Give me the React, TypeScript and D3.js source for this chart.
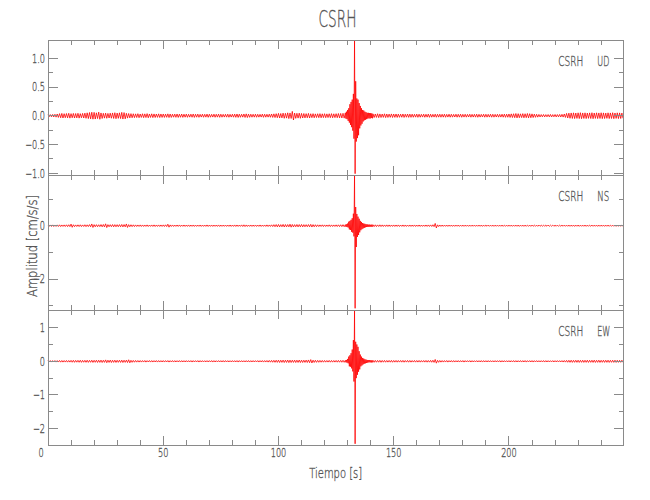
import React from 'react';
import * as d3 from 'd3';

// ---------------- data ----------------
const titleText = 'CSRH';
const stationName = 'CSRH';
const componentNames = ['UD', 'NS', 'EW'];
const xAxisLabel = 'Tiempo [s]';
const yAxisLabel = 'Amplitud [cm/s/s]';

const timeMax = 249.7;
const xMajorTicks = [0, 50, 100, 150, 200];
const xMinorTicks = [10, 20, 30, 40, 60, 70, 80, 90, 110, 120, 130, 140, 160, 170, 180, 190, 210, 220, 230, 240];

const udYDomain = [-1.033, 1.319];
const nsYDomain = [-3.163, 1.902];
const ewYDomain = [-2.486, 1.524];
const udMajorTicks = [1, 0.5, 0, -0.5, -1];
const udMinorTicks = [0.75, 0.25, -0.25, -0.75];
const nsMajorTicks = [0, -2];
const nsMinorTicks = [1, -1, -3];
const ewMajorTicks = [1, 0, -1, -2];
const ewMinorTicks = [0.5, -0.5, -1.5];

// background envelope amplitude (cm/s/s), 1 s bins, 0..128 s and 141..249 s
const preStartTime = 0;
const postStartTime = 141;
// event window, 0.5 s bins, 129..140.5 s (max / min of each bin)
const eventStartTime = 129;
const eventStep = 0.5;

const udPre = [
  0.018, 0.02, 0.022, 0.025, 0.03, 0.036, 0.04, 0.035, 0.038, 0.042,
  0.036, 0.04, 0.038, 0.042, 0.036, 0.04, 0.045, 0.05, 0.055, 0.06,
  0.058, 0.05, 0.062, 0.048, 0.042, 0.045, 0.04, 0.044, 0.048, 0.052,
  0.046, 0.05, 0.058, 0.054, 0.042, 0.038, 0.036, 0.034, 0.032, 0.035,
  0.03, 0.034, 0.032, 0.036, 0.03, 0.033, 0.031, 0.029, 0.032, 0.03,
  0.03, 0.028, 0.032, 0.03, 0.026, 0.028, 0.03, 0.027, 0.029, 0.026,
  0.028, 0.025, 0.027, 0.03, 0.026, 0.028, 0.024, 0.027, 0.025, 0.028,
  0.026, 0.024, 0.027, 0.025, 0.028, 0.026, 0.024, 0.025, 0.027, 0.024,
  0.026, 0.028, 0.03, 0.027, 0.025, 0.03, 0.032, 0.028, 0.026, 0.025,
  0.027, 0.025, 0.024, 0.028, 0.026, 0.025, 0.027, 0.03, 0.032, 0.035,
  0.04, 0.038, 0.045, 0.042, 0.05, 0.048, 0.075, 0.046, 0.042, 0.045,
  0.04, 0.038, 0.036, 0.04, 0.034, 0.036, 0.032, 0.034, 0.036, 0.033,
  0.035, 0.032, 0.034, 0.036, 0.033, 0.035, 0.038, 0.04, 0.042,
];
const udEventMax = [
  0.05, 0.07, 0.1, 0.13, 0.2, 0.24, 0.28, 0.38, 1.31, 0.6, 0.3, 0.28,
  0.22, 0.17, 0.13, 0.1, 0.09, 0.07, 0.06, 0.05, 0.05, 0.045, 0.045, 0.04,
];
const udEventMin = [
  -0.05, -0.06, -0.09, -0.12, -0.16, -0.2, -0.26, -0.4, -1.01, -0.45, -0.39, -0.34,
  -0.22, -0.17, -0.14, -0.1, -0.08, -0.07, -0.06, -0.05, -0.045, -0.05, -0.04, -0.045,
];
const udPost = [
  0.032, 0.03, 0.034, 0.031, 0.029, 0.033, 0.03, 0.028, 0.031, 0.029,
  0.03, 0.028, 0.027, 0.03, 0.026, 0.029, 0.028, 0.027, 0.025, 0.028,
  0.026, 0.024, 0.027, 0.025, 0.028, 0.026, 0.024, 0.027, 0.025, 0.026,
  0.025, 0.027, 0.024, 0.026, 0.025, 0.023, 0.026, 0.025, 0.027, 0.024,
  0.025, 0.023, 0.026, 0.024, 0.025, 0.027, 0.024, 0.023, 0.026, 0.025,
  0.024, 0.026, 0.025, 0.023, 0.025, 0.024, 0.026, 0.028, 0.027, 0.03,
  0.032, 0.034, 0.038, 0.035, 0.033, 0.036, 0.034, 0.038, 0.035, 0.032,
  0.028, 0.025, 0.022, 0.02, 0.021, 0.019, 0.02, 0.022, 0.019, 0.021,
  0.02, 0.022, 0.024, 0.03, 0.04, 0.045, 0.048, 0.05, 0.047, 0.05,
  0.052, 0.048, 0.05, 0.046, 0.049, 0.052, 0.047, 0.05, 0.048, 0.051,
  0.049, 0.046, 0.05, 0.048, 0.052, 0.047, 0.05, 0.049, 0.046,
];

const nsPre = [
  0.025, 0.028, 0.03, 0.027, 0.03, 0.032, 0.028, 0.03, 0.033, 0.035,
  0.06, 0.035, 0.03, 0.032, 0.034, 0.03, 0.035, 0.033, 0.04, 0.065,
  0.04, 0.038, 0.036, 0.042, 0.045, 0.07, 0.04, 0.038, 0.042, 0.04,
  0.038, 0.04, 0.045, 0.042, 0.065, 0.04, 0.035, 0.032, 0.03, 0.028,
  0.03, 0.028, 0.027, 0.03, 0.026, 0.028, 0.03, 0.027, 0.029, 0.028,
  0.03, 0.032, 0.055, 0.03, 0.028, 0.026, 0.027, 0.028, 0.025, 0.027,
  0.026, 0.028, 0.025, 0.027, 0.026, 0.024, 0.027, 0.025, 0.026, 0.028,
  0.025, 0.027, 0.024, 0.026, 0.028, 0.025, 0.024, 0.026, 0.025, 0.027,
  0.026, 0.028, 0.027, 0.025, 0.03, 0.032, 0.028, 0.026, 0.027, 0.025,
  0.027, 0.026, 0.028, 0.025, 0.027, 0.03, 0.028, 0.032, 0.038, 0.042,
  0.045, 0.04, 0.048, 0.044, 0.042, 0.055, 0.046, 0.04, 0.044, 0.042,
  0.045, 0.04, 0.038, 0.042, 0.05, 0.04, 0.036, 0.033, 0.03, 0.032,
  0.03, 0.028, 0.032, 0.03, 0.029, 0.031, 0.033, 0.035, 0.038,
];
const nsEventMax = [
  0.04, 0.05, 0.08, 0.15, 0.18, 0.22, 0.28, 0.45, 1.89, 0.7, 0.44, 0.34,
  0.26, 0.18, 0.14, 0.1, 0.08, 0.07, 0.055, 0.05, 0.04, 0.04, 0.035, 0.04,
];
const nsEventMin = [
  -0.04, -0.05, -0.07, -0.14, -0.16, -0.23, -0.26, -0.4, -3.1, -0.8, -0.42, -0.35,
  -0.25, -0.17, -0.13, -0.1, -0.08, -0.06, -0.05, -0.045, -0.045, -0.04, -0.04, -0.035,
];
const nsPost = [
  0.035, 0.033, 0.03, 0.032, 0.03, 0.028, 0.03, 0.029, 0.027, 0.028,
  0.027, 0.029, 0.026, 0.028, 0.027, 0.025, 0.027, 0.026, 0.028, 0.025,
  0.027, 0.026, 0.025, 0.027, 0.028, 0.03, 0.035, 0.085, 0.032, 0.027,
  0.025, 0.024, 0.026, 0.023, 0.025, 0.024, 0.022, 0.025, 0.023, 0.024,
  0.022, 0.024, 0.023, 0.021, 0.024, 0.022, 0.023, 0.025, 0.022, 0.021,
  0.023, 0.022, 0.024, 0.021, 0.023, 0.022, 0.024, 0.021, 0.023, 0.022,
  0.024, 0.022, 0.023, 0.025, 0.022, 0.024, 0.023, 0.021, 0.024, 0.022,
  0.021, 0.023, 0.022, 0.02, 0.022, 0.021, 0.023, 0.02, 0.022, 0.021,
  0.022, 0.02, 0.021, 0.023, 0.022, 0.024, 0.023, 0.025, 0.022, 0.024,
  0.023, 0.022, 0.024, 0.023, 0.021, 0.023, 0.022, 0.024, 0.023, 0.022,
  0.024, 0.022, 0.023, 0.021, 0.022, 0.024, 0.023, 0.022, 0.021,
];

const ewPre = [
  0.02, 0.022, 0.021, 0.023, 0.022, 0.025, 0.024, 0.023, 0.025, 0.024,
  0.028, 0.03, 0.027, 0.029, 0.031, 0.028, 0.03, 0.032, 0.029, 0.033,
  0.03, 0.034, 0.032, 0.035, 0.031, 0.042, 0.033, 0.036, 0.032, 0.034,
  0.031, 0.033, 0.035, 0.032, 0.036, 0.045, 0.03, 0.027, 0.025, 0.024,
  0.023, 0.022, 0.024, 0.021, 0.023, 0.022, 0.021, 0.023, 0.022, 0.021,
  0.022, 0.021, 0.023, 0.02, 0.022, 0.021, 0.02, 0.022, 0.021, 0.02,
  0.021, 0.02, 0.022, 0.021, 0.02, 0.022, 0.021, 0.02, 0.019, 0.021,
  0.02, 0.022, 0.021, 0.019, 0.021, 0.02, 0.022, 0.021, 0.02, 0.019,
  0.021, 0.02, 0.022, 0.021, 0.02, 0.019, 0.021, 0.022, 0.02, 0.021,
  0.02, 0.022, 0.021, 0.023, 0.022, 0.024, 0.026, 0.028, 0.03, 0.032,
  0.035, 0.032, 0.036, 0.034, 0.038, 0.035, 0.033, 0.036, 0.034, 0.037,
  0.035, 0.033, 0.036, 0.04, 0.05, 0.034, 0.031, 0.029, 0.027, 0.026,
  0.025, 0.024, 0.026, 0.025, 0.024, 0.026, 0.027, 0.028, 0.03,
];
const ewEventMax = [
  0.03, 0.04, 0.07, 0.14, 0.18, 0.24, 0.35, 0.63, 1.5, 0.58, 0.5, 0.43,
  0.3, 0.2, 0.14, 0.1, 0.08, 0.06, 0.05, 0.04, 0.035, 0.035, 0.03, 0.03,
];
const ewEventMin = [
  -0.03, -0.04, -0.06, -0.15, -0.16, -0.21, -0.3, -0.6, -2.45, -0.5, -0.4, -0.31,
  -0.24, -0.15, -0.12, -0.09, -0.07, -0.06, -0.05, -0.04, -0.03, -0.03, -0.035, -0.03,
];
const ewPost = [
  0.03, 0.028, 0.027, 0.029, 0.026, 0.027, 0.025, 0.026, 0.028, 0.025,
  0.026, 0.024, 0.025, 0.027, 0.024, 0.026, 0.025, 0.023, 0.025, 0.024,
  0.025, 0.023, 0.024, 0.026, 0.025, 0.028, 0.032, 0.055, 0.03, 0.025,
  0.023, 0.022, 0.024, 0.021, 0.023, 0.022, 0.02, 0.022, 0.021, 0.023,
  0.021, 0.02, 0.022, 0.021, 0.019, 0.021, 0.02, 0.022, 0.021, 0.02,
  0.021, 0.02, 0.019, 0.021, 0.02, 0.022, 0.021, 0.02, 0.019, 0.021,
  0.02, 0.022, 0.021, 0.02, 0.022, 0.021, 0.023, 0.02, 0.021, 0.022,
  0.02, 0.021, 0.019, 0.02, 0.022, 0.021, 0.02, 0.019, 0.021, 0.02,
  0.021, 0.02, 0.022, 0.024, 0.028, 0.03, 0.032, 0.03, 0.031, 0.033,
  0.03, 0.032, 0.031, 0.033, 0.03, 0.032, 0.034, 0.031, 0.033, 0.03,
  0.032, 0.031, 0.033, 0.03, 0.032, 0.034, 0.031, 0.03, 0.032,
];

// ---------------- helpers ----------------
type Pt = [number, number];

function buildTrace(pre: number[], evMax: number[], evMin: number[], post: number[]): Pt[] {
  const pts: Pt[] = [];
  pre.forEach((a, i) => {
    const t = preStartTime + i;
    pts.push([t, a], [t + 0.5, -a]);
  });
  evMax.forEach((m, i) => {
    const t = eventStartTime + i * eventStep;
    pts.push([t, m], [t + eventStep / 2, evMin[i]]);
  });
  post.forEach((a, i) => {
    const t = postStartTime + i;
    pts.push([t, a], [t + 0.5, -a]);
  });
  return pts;
}

const W = 650;
const H = 500;
const left = 48;
const right = 623.5;
const panelTop = 40;
const panelH = 135;
const axisColor = '#8a8a8a';
const textColor = '#555555';
const font = 'DejaVu Sans';
const fontWeight = 200;
const textStroke = 0.35;
const traceColor = '#ff0000';

const minus = (s: string) => s.replace('-', '\u2212');

const textStyle = {
  fontFamily: font,
  fontWeight: fontWeight,
  fill: textColor,
  stroke: textColor,
  strokeWidth: textStroke,
};

function ScaledText(props: { x: number; y: number; text: string; size: number; anchor?: string; sx?: number }) {
  const { x, y, text, size, anchor = 'start', sx = 0.68 } = props;
  return (
    <g transform={`translate(${x},${y}) scale(${sx},1)`}>
      <text style={textStyle} fontSize={size} textAnchor={anchor}>
        {text}
      </text>
    </g>
  );
}

export default function App() {
  const x = d3.scaleLinear().domain([0, timeMax]).range([left, right]);

  const panels = [
    { comp: componentNames[0], domain: udYDomain, major: udMajorTicks, minor: udMinorTicks, fmt: d3.format('.1f'), data: buildTrace(udPre, udEventMax, udEventMin, udPost) },
    { comp: componentNames[1], domain: nsYDomain, major: nsMajorTicks, minor: nsMinorTicks, fmt: d3.format('d'), data: buildTrace(nsPre, nsEventMax, nsEventMin, nsPost) },
    { comp: componentNames[2], domain: ewYDomain, major: ewMajorTicks, minor: ewMinorTicks, fmt: d3.format('d'), data: buildTrace(ewPre, ewEventMax, ewEventMin, ewPost) },
  ];

  const xMajLen = 9;
  const xMinLen = 5;
  const yMajLen = 10;
  const yMinLen = 5;
  const bottom = panelTop + panelH * 3;

  return (
    <svg width={W} height={H} style={{ position: 'absolute', left: 0, top: 0, background: '#fff' }}>
      {/* title */}
      <text x={337.5} y={27} style={textStyle} fontSize={23} textAnchor="middle" textLength={38} lengthAdjust="spacingAndGlyphs">
        {titleText}
      </text>

      {panels.map((p, pi) => {
        const top = panelTop + pi * panelH;
        const bot = top + panelH;
        const y = d3.scaleLinear().domain(p.domain).range([bot, top]);
        const line = d3.line<Pt>().x((d) => x(d[0])).y((d) => y(d[1]));
        return (
          <g key={p.comp}>
            {/* trace */}
            <path d={line(p.data) || ''} fill="none" stroke={traceColor} strokeWidth={0.8} strokeLinejoin="miter" />

            <g stroke={axisColor} strokeWidth={1} shapeRendering="crispEdges" fill="none">
              <rect x={left} y={top} width={right - left} height={panelH} />
              {xMajorTicks.map((t) => (
                <g key={'xM' + t}>
                  <line x1={x(t)} x2={x(t)} y1={top} y2={top + xMajLen} />
                  <line x1={x(t)} x2={x(t)} y1={bot} y2={bot - xMajLen} />
                </g>
              ))}
              {xMinorTicks.map((t) => (
                <g key={'xm' + t}>
                  <line x1={x(t)} x2={x(t)} y1={top} y2={top + xMinLen} />
                  <line x1={x(t)} x2={x(t)} y1={bot} y2={bot - xMinLen} />
                </g>
              ))}
              {p.major.map((v) => (
                <g key={'yM' + v}>
                  <line x1={left} x2={left + yMajLen} y1={y(v)} y2={y(v)} />
                  <line x1={right} x2={right - yMajLen} y1={y(v)} y2={y(v)} />
                </g>
              ))}
              {p.minor.map((v) => (
                <g key={'ym' + v}>
                  <line x1={left} x2={left + yMinLen} y1={y(v)} y2={y(v)} />
                  <line x1={right} x2={right - yMinLen} y1={y(v)} y2={y(v)} />
                </g>
              ))}
            </g>

            {p.major.map((v) => (
              <ScaledText key={'yl' + v} x={left - 3} y={y(v) + 4.4} text={minus(p.fmt(v))} size={12} anchor="end" />
            ))}

            {/* station / component label */}
            <text x={558.3} y={top + 26} style={textStyle} fontSize={13.7} textLength={25} lengthAdjust="spacingAndGlyphs">
              {stationName}
            </text>
            <text x={597.3} y={top + 26} style={textStyle} fontSize={13.7} textLength={p.comp === 'EW' ? 13 : 12} lengthAdjust="spacingAndGlyphs">
              {p.comp}
            </text>
          </g>
        );
      })}

      {/* x tick labels */}
      {xMajorTicks.map((t) => (
        <ScaledText key={'xl' + t} x={x(t) + (t === 0 ? -7 : 0)} y={bottom + 11.7} text={String(t)} size={12} anchor="middle" />
      ))}

      {/* axis titles */}
      <text x={335.7} y={477.5} style={textStyle} fontSize={14} textAnchor="middle" textLength={53} lengthAdjust="spacingAndGlyphs">
        {xAxisLabel}
      </text>
      <text
        transform={`translate(37,246) rotate(-90)`}
        style={textStyle}
        fontSize={14}
        textAnchor="middle"
        textLength={102}
        lengthAdjust="spacingAndGlyphs"
      >
        {yAxisLabel}
      </text>
    </svg>
  );
}
